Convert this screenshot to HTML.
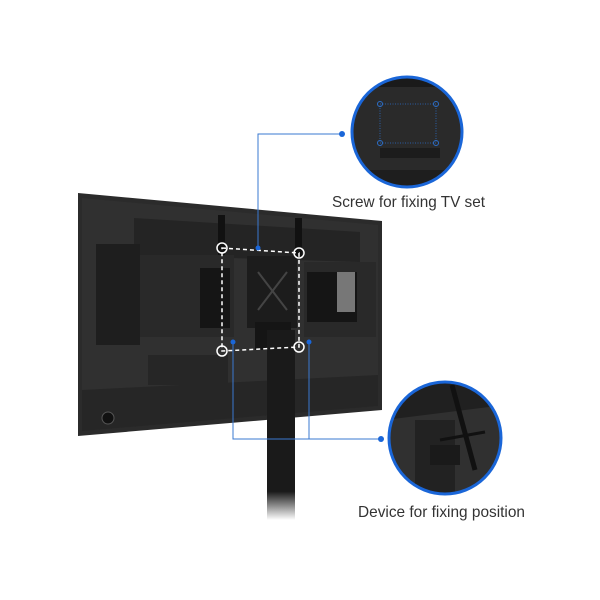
<!DOCTYPE html>
<html><head><style>body{margin:0;background:#fff}svg{display:block}</style></head><body>
<svg width="600" height="600" viewBox="0 0 600 600" xmlns="http://www.w3.org/2000/svg">
<defs>
<linearGradient id="pole" x1="0" y1="0" x2="0" y2="1"><stop offset="0.85" stop-color="#1a1a1a"/><stop offset="1" stop-color="#1a1a1a" stop-opacity="0"/></linearGradient>
<clipPath id="c1"><circle cx="407" cy="132" r="54"/></clipPath>
<clipPath id="c2"><circle cx="445" cy="438" r="55"/></clipPath>
</defs>
<!-- TV -->
<polygon points="78,193 382,221 382,410 78,436" fill="#2b2b2b"/>
<polygon points="82,198 378,225 378,406 82,431" fill="#303030"/>
<polygon points="134,218 360,232 360,262 134,255" fill="#242424"/>
<polygon points="96,244 140,244 140,345 96,345" fill="#1e1e1e"/>
<rect x="140" y="255" width="94" height="82" fill="#292929"/>
<rect x="200" y="268" width="30" height="60" fill="#151515"/>
<rect x="304" y="262" width="72" height="75" fill="#292929"/>
<rect x="307" y="272" width="50" height="50" fill="#151515"/>
<rect x="337" y="272" width="18" height="40" fill="#777"/>
<polygon points="82,390 378,375 378,406 82,431" fill="#262626"/>
<rect x="148" y="355" width="80" height="30" fill="#262626"/>
<circle cx="108" cy="418" r="6" fill="#111" stroke="#555"/>
<!-- bracket -->
<rect x="218" y="215" width="7" height="40" fill="#111"/>
<rect x="295" y="218" width="7" height="40" fill="#111"/>
<rect x="247" y="256" width="50" height="72" fill="#1c1c1c"/>
<line x1="258" y1="272" x2="287" y2="310" stroke="#444" stroke-width="2"/>
<line x1="287" y1="272" x2="258" y2="310" stroke="#444" stroke-width="2"/>
<rect x="255" y="322" width="36" height="28" fill="#151515"/>
<!-- pole -->
<rect x="267" y="330" width="28" height="190" fill="url(#pole)"/>
<!-- dashed rect -->
<polygon points="222,248 299,253 299,347 222,351" fill="none" stroke="#fff" stroke-width="1.5" stroke-dasharray="4,3"/>
<g fill="none" stroke="#fff" stroke-width="1.5">
<circle cx="222" cy="248" r="5"/><circle cx="299" cy="253" r="5"/><circle cx="222" cy="351" r="5"/><circle cx="299" cy="347" r="5"/></g>
<!-- connectors -->
<g stroke="#3a78d0" stroke-width="1" fill="none">
<polyline points="342,134 258,134 258,248"/>
<polyline points="233,342 233,439 381,439"/>
<line x1="309" y1="342" x2="309" y2="439"/>
</g>
<g fill="#1a66d8"><circle cx="342" cy="134" r="3"/><circle cx="381" cy="439" r="3"/><circle cx="233" cy="342" r="2.5"/><circle cx="309" cy="342" r="2.5"/><circle cx="258" cy="248" r="2.5"/></g>
<!-- top circle -->
<g clip-path="url(#c1)">
<rect x="350" y="75" width="120" height="120" fill="#2a2a2a"/>
<rect x="350" y="75" width="120" height="12" fill="#1a1a1a"/>
<rect x="350" y="170" width="120" height="25" fill="#1e1e1e"/>
<rect x="380" y="148" width="60" height="10" fill="#1c1c1c"/>
<polygon points="380,104 436,104 436,143 380,143" fill="none" stroke="#2c6ec8" stroke-width="0.8" stroke-dasharray="1,1.5"/>
<g fill="none" stroke="#2c6ec8"><circle cx="380" cy="104" r="2.5"/><circle cx="436" cy="104" r="2.5"/><circle cx="380" cy="143" r="2.5"/><circle cx="436" cy="143" r="2.5"/></g>
</g>
<circle cx="407" cy="132" r="55" fill="none" stroke="#1a66d8" stroke-width="3"/>
<!-- bottom circle -->
<g clip-path="url(#c2)">
<rect x="385" y="380" width="120" height="120" fill="#303030"/>
<polygon points="385,380 505,380 505,405 385,420" fill="#202020"/>
<rect x="415" y="420" width="40" height="75" fill="#222"/>
<line x1="452" y1="385" x2="475" y2="470" stroke="#111" stroke-width="5"/>
<line x1="440" y1="440" x2="485" y2="432" stroke="#111" stroke-width="3"/>
<rect x="430" y="445" width="30" height="20" fill="#1a1a1a"/>
</g>
<circle cx="445" cy="438" r="56" fill="none" stroke="#1a66d8" stroke-width="3"/>
<!-- labels -->
<text x="332" y="207" font-family="Liberation Sans, sans-serif" font-size="16" fill="#333" textLength="153" lengthAdjust="spacingAndGlyphs">Screw for fixing TV set</text>
<text x="358" y="517" font-family="Liberation Sans, sans-serif" font-size="16" fill="#333" textLength="167" lengthAdjust="spacingAndGlyphs">Device for fixing position</text>
</svg>
</body></html>
